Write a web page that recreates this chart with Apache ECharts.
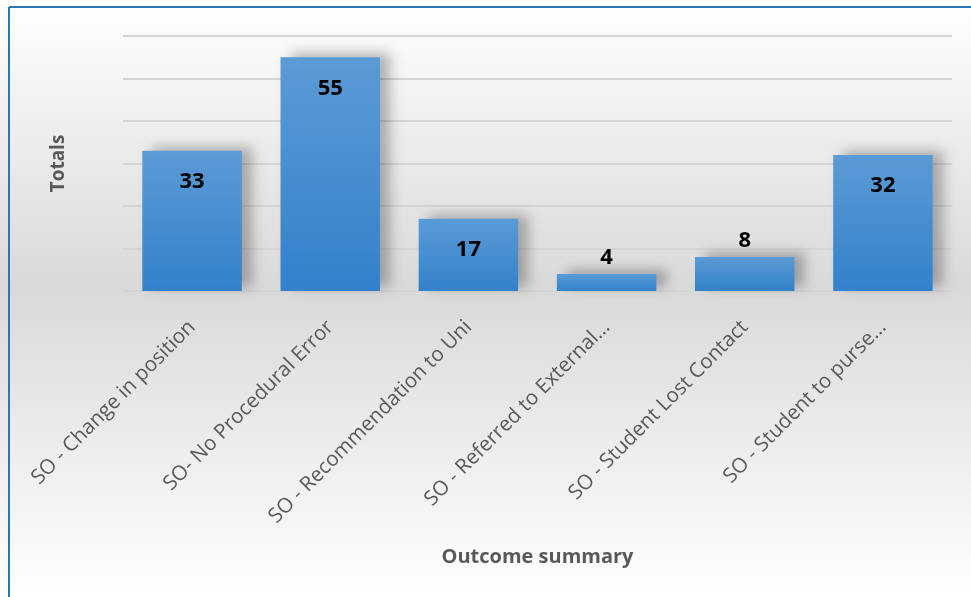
<!DOCTYPE html>
<html><head><meta charset="utf-8">
<script src="https://cdn.jsdelivr.net/npm/echarts@6/dist/echarts.min.js"></script>
<style>html,body{margin:0;padding:0;background:#fff}#c{width:971px;height:597px}</style>
</head><body><div id="c"></div>
<script>
const categories = ["SO - Change in position","SO- No Procedural Error","SO - Recommendation to Uni","SO - Referred to External…","SO - Student Lost Contact","SO - Student to purse…"];
const totals = [33, 55, 17, 4, 8, 32];
const yTicks = [0, 10, 20, 30, 40, 50, 60];

const chart = echarts.init(document.getElementById('c'));
const barGrad = new echarts.graphic.LinearGradient(0,0,0,1,[{offset:0,color:'#5b9bd6'},{offset:1,color:'#3381ca'}]);
chart.setOption({
  animation:false,
  backgroundColor: new echarts.graphic.LinearGradient(0,0,0,1,[
    {offset:0,color:'#ffffff'},{offset:0.48,color:'#d9d9d9'},{offset:1,color:'#ffffff'}]),
  graphic:[
    {type:'line',shape:{x1:9,y1:7,x2:971,y2:7},style:{stroke:'#2e75b6',lineWidth:2}},
    {type:'line',shape:{x1:9,y1:7,x2:9,y2:597},style:{stroke:'#2e75b6',lineWidth:2}}
  ],
  grid:{left:123,right:19,top:36,bottom:306},
  xAxis:{
    type:'category',data:categories,
    name:'Outcome summary',nameLocation:'middle',nameGap:256,
    nameTextStyle:{fontFamily:'Open Sans',fontSize:20,fontWeight:'bold',color:'#595959'},
    axisLine:{show:false},axisTick:{show:false},
    axisLabel:{rotate:45,interval:0,margin:33,fontFamily:'Open Sans',fontSize:20.5,color:'#595959'}
  },
  yAxis:{
    type:'value',min:yTicks[0],max:yTicks[yTicks.length-1],interval:10,
    name:'Totals',nameLocation:'middle',nameGap:55,
    nameTextStyle:{fontFamily:'Open Sans',fontSize:19,fontWeight:'bold',color:'#595959'},
    axisLabel:{show:false},axisLine:{show:false},axisTick:{show:false},
    splitLine:{lineStyle:{color:'#d4d4d4',width:2}}
  },
  series:[{
    type:'bar',barCategoryGap:'28%',
    data: totals.map(v=>({value:v,label:{position: v>=15?'insideTop':'top',distance: v>=15?20:5}})),
    itemStyle:{color:barGrad,shadowColor:'rgba(0,0,0,0.28)',shadowBlur:12,shadowOffsetX:10,shadowOffsetY:-4},
    label:{show:true,fontFamily:'Open Sans',fontSize:22,fontWeight:'bold',color:'#000'}
  }]
});
</script></body></html>
